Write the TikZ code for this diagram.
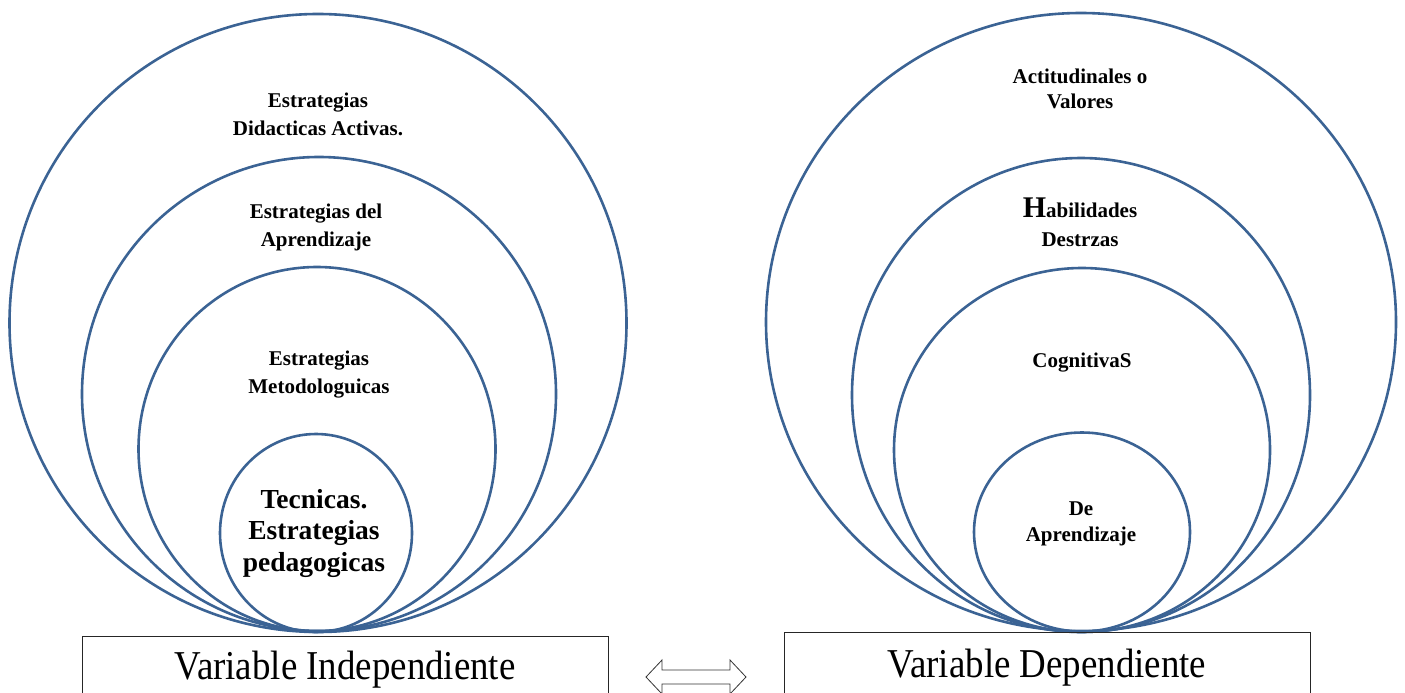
\documentclass[tikz,border=0pt]{standalone}
\usepackage{fontspec}
\setmainfont{Liberation Serif}
\usetikzlibrary{shapes.geometric}
\definecolor{ringblue}{HTML}{3B6394}
\tikzset{
  ring/.style 2 args={draw=ringblue, line width=2.6pt, ellipse, inner sep=0pt,
    minimum width=#1pt, minimum height=#2pt},
  lbl/.style={align=center, inner sep=0pt, font=\bfseries\fontsize{21}{28}\selectfont},
  varbox/.style={draw=black!85, line width=0.9pt, minimum width=526pt, minimum height=80pt, inner sep=0pt},
  vartext/.style={inner sep=0pt, font=\fontsize{41}{44}\selectfont}
}
\begin{document}
\begin{tikzpicture}[x=1pt,y=-1pt]
\useasboundingbox (0,0) rectangle (1405,693);
\clip (0,0) rectangle (1405,693);
% left rings
\node[ring={617}{618}] (L1) at (318,323) {};
\node[ring={474}{474}] (L2) at (319,394) {};
\node[ring={357}{364}] (L3) at (317,449) {};
\node[ring={192}{198}] (L4) at (316,533) {};
% right rings
\node[ring={630}{618}] (R1) at (1081,322) {};
\node[ring={458}{474}] (R2) at (1081,395) {};
\node[ring={376}{364}] (R3) at (1082,450) {};
\node[ring={216}{199}] (R4) at (1082,532) {};
% left labels
\node[lbl] (tL1) at (318,114) {Estrategias\\Didacticas Activas.};
\node[lbl] (tL2) at (316,227) {Estrategias del\\Aprendizaje};
\node[lbl] (tL3) at (319,375) {Estrategias\\Metodologuicas};
\node[lbl, font=\bfseries\fontsize{27.5}{31.5}\selectfont] (tL4) at (314,533) {Tecnicas.\\Estrategias\\pedagogicas};
% right labels
\node[lbl, font=\bfseries\fontsize{21}{25}\selectfont] (tR1) at (1080,89) {Actitudinales o\\Valores};
\node[lbl, font=\bfseries\fontsize{21}{29}\selectfont] (tR2) at (1080,222) {{\fontsize{30}{29}\selectfont H}abilidades\\Destrzas};
\node[lbl] (tR3) at (1082,363) {CognitivaS};
\node[lbl, font=\bfseries\fontsize{21}{26}\selectfont] (tR4) at (1081,524) {De\\Aprendizaje};
% boxes
\node[varbox, anchor=north west] (bL) at (82,636) {};
\node[varbox, anchor=north west] (bR) at (784,632) {};
\node[vartext] (vL) at (345,670) {\scalebox{0.9}[1]{Variable Independiente}};
\node[vartext] (vR) at (1047,668) {\scalebox{0.9}[1]{Variable Dependiente}};
% double arrow
\draw[black!80, line width=0.8pt, fill=white]
  (646,677) -- (662,660) -- (662,670) -- (730,670) -- (730,660) -- (746,677)
  -- (730,694) -- (730,684) -- (662,684) -- (662,694) -- cycle;
\end{tikzpicture}
\end{document}
